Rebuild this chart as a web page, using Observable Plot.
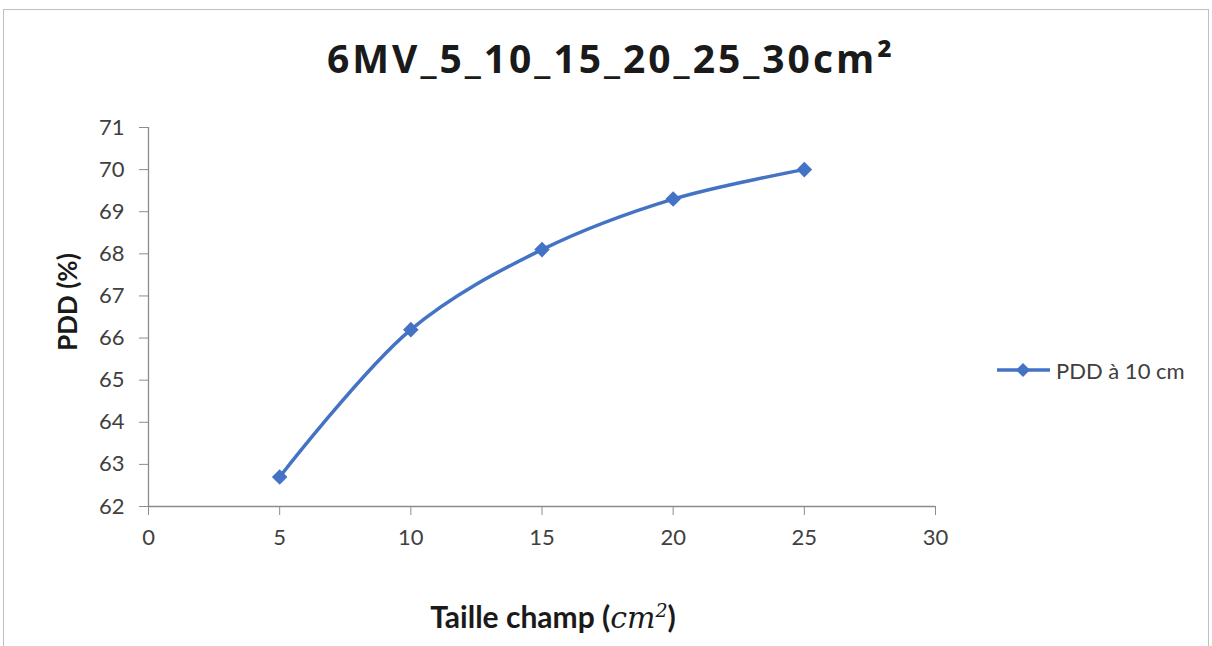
<!DOCTYPE html>
<html>
<head>
<meta charset="utf-8">
<script src="https://cdn.jsdelivr.net/npm/d3@7"></script>
<script src="https://cdn.jsdelivr.net/npm/@observablehq/plot@0.6"></script>
<style>
  html, body { margin: 0; padding: 0; background: #fff; }
  #wrap { position: relative; width: 1212px; height: 646px; overflow: hidden; font-family: Lato, "Open Sans", sans-serif; }
  #frame { position: absolute; left: 3px; top: 9px; width: 1206px; height: 660px; border: 1px solid #bfbfbf; box-sizing: border-box; }
  #title { position: absolute; left: 0; width: 1222px; top: 31px; text-align: center; font-family: "Open Sans", Lato, sans-serif; font-size: 39px; letter-spacing: 3px; font-weight: bold; color: #1a1a1a; }
  #ylab { position: absolute; left: 67px; top: 302px; transform: translate(-50%, -50%) rotate(-90deg); font-size: 26px; font-weight: bold; color: #1a1a1a; white-space: nowrap; }
  #xlab { position: absolute; left: 0; width: 1106px; top: 598px; text-align: center; font-size: 30px; font-weight: bold; color: #1a1a1a; }
  #xlab .m { font-family: "DejaVu Serif", serif; font-style: italic; font-weight: normal; }
  #legend { position: absolute; left: 996px; top: 356px; display: flex; align-items: center; font-size: 22px; color: #404040; }
  #chart { position: absolute; left: 0; top: 0; }
</style>
</head>
<body>
<div id="wrap">
  <div id="frame"></div>
  <div id="chart"></div>
  <div id="title">6MV_5_10_15_20_25_30cm²</div>
  <div id="ylab">PDD (%)</div>
  <div id="xlab">Taille champ (<span class="m">cm</span><sup class="m" style="font-size:19px">2</sup>)</div>
  <div id="legend"><svg width="56" height="28"><line x1="1" y1="14" x2="54" y2="14" stroke="#4472C4" stroke-width="3.5"/><path d="M27,7 L34,14 L27,21 L20,14 Z" fill="#4472C4"/></svg><span style="margin-left:4px">PDD à 10 cm</span></div>
</div>
<script>
const fieldSizes = [5, 10, 15, 20, 25];
const pddValues = [62.7, 66.2, 68.1, 69.3, 70.0];
const xTicks = [0, 5, 10, 15, 20, 25, 30];
const yTicks = [62, 63, 64, 65, 66, 67, 68, 69, 70, 71];

const data = fieldSizes.map((x, i) => ({x, y: pddValues[i]}));

const plot = Plot.plot({
  width: 1212,
  height: 646,
  marginLeft: 148,
  marginRight: 277,
  marginTop: 127,
  marginBottom: 140,
  style: {fontFamily: "Lato, 'Open Sans', sans-serif", fontSize: "22px", color: "#404040", background: "transparent"},
  x: {domain: [0, 30], ticks: xTicks, label: null},
  y: {domain: [62, 71], ticks: yTicks, label: null},
  marks: [
    Plot.axisX({ticks: xTicks, tickSize: 9, tickPadding: 14, stroke: "#8c8c8c", fill: "#404040", label: null}),
    Plot.axisY({ticks: yTicks, tickSize: 9, tickPadding: 15, stroke: "#8c8c8c", fill: "#404040", label: null}),
    Plot.ruleY([62], {stroke: "#8c8c8c", strokeWidth: 1.3}),
    Plot.ruleX([0], {stroke: "#8c8c8c", strokeWidth: 1.3}),
    Plot.line(data, {x: "x", y: "y", stroke: "#4472C4", strokeWidth: 3.5, curve: "catmull-rom"}),
    Plot.dot(data, {x: "x", y: "y", symbol: "diamond2", r: 7, fill: "#4472C4", stroke: "none"})
  ]
});
document.getElementById("chart").appendChild(plot);
</script>
</body>
</html>
